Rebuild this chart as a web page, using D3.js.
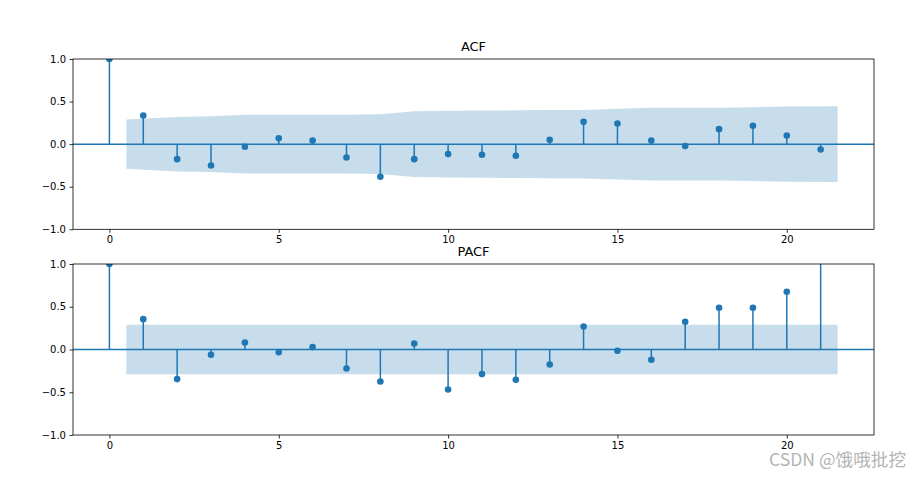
<!DOCTYPE html>
<html>
<head>
<meta charset="UTF-8">
<title>ACF / PACF</title>
<script src="https://cdnjs.cloudflare.com/ajax/libs/d3/7.8.5/d3.min.js"></script>
<style>
    body { margin: 0; background: #fff; }
    svg { display: block; font-family: "DejaVu Sans", sans-serif; }
    .tick text { font-size: 10px; fill: #000; }
    .tick line, .domain { stroke: #000; stroke-width: 0.8; }
</style>
</head>
<body>
<div id="chart"></div>
<script>
    // data
    const lags = [0, 1, 2, 3, 4, 5, 6, 7, 8, 9, 10, 11, 12, 13, 14, 15, 16, 17, 18, 19, 20, 21];
    const acfValues = [1.0, 0.337, -0.176, -0.25, -0.031, 0.07, 0.043, -0.156, -0.383, -0.176, -0.117,
        -0.125, -0.137, 0.051, 0.263, 0.243, 0.043, -0.023, 0.176, 0.216, 0.102, -0.062];
    // half width of the confidence band, lags 1..21
    const acfBand = [0.289, 0.320, 0.328, 0.344, 0.344, 0.345, 0.346, 0.351, 0.385, 0.391, 0.394,
        0.397, 0.401, 0.402, 0.416, 0.428, 0.428, 0.428, 0.434, 0.443, 0.445];
    const pacfValues = [1.0, 0.355, -0.346, -0.062, 0.082, -0.031, 0.028, -0.222, -0.374, 0.07, -0.468,
        -0.288, -0.354, -0.175, 0.269, -0.015, -0.12, 0.324, 0.488, 0.488, 0.675, 1.3];
    const pacfBand = [0.289, 0.289, 0.289, 0.289, 0.289, 0.289, 0.289, 0.289, 0.289, 0.289, 0.289,
        0.289, 0.289, 0.289, 0.289, 0.289, 0.289, 0.289, 0.289, 0.289, 0.289];
    const xTicks = [0, 5, 10, 15, 20];
    const yTicks = [-1.0, -0.5, 0.0, 0.5, 1.0];

    const width = 921, height = 480;
    const left = 73, right = 874;
    const blue = "#1f77b4";

    const svg = d3.select("#chart").append("svg")
        .attr("width", width)
        .attr("height", height);

    const x = d3.scaleLinear().domain([-1.075, 22.575]).range([left, right]);

    function drawPanel(name, values, band, top, bottom) {
        const y = d3.scaleLinear().domain([-1, 1]).range([bottom, top]);
        const g = svg.append("g");

        g.append("clipPath").attr("id", "clip-" + name)
            .append("rect")
            .attr("x", left).attr("y", top)
            .attr("width", right - left).attr("height", bottom - top);

        const plot = g.append("g").attr("clip-path", "url(#clip-" + name + ")");

        // band x: first lag moved left by 0.5, last moved right by 0.5
        const bandData = band.map((b, i) => {
            let lx = lags[i + 1];
            if (i === 0) lx -= 0.5;
            if (i === band.length - 1) lx += 0.5;
            return { x: lx, b: b };
        });
        plot.append("path")
            .datum(bandData)
            .attr("fill", blue)
            .attr("fill-opacity", 0.25)
            .attr("d", d3.area().x(d => x(d.x)).y0(d => y(-d.b)).y1(d => y(d.b)));

        plot.selectAll(".stem")
            .data(values)
            .enter()
            .append("line")
            .attr("class", "stem")
            .attr("x1", (d, i) => x(lags[i]))
            .attr("x2", (d, i) => x(lags[i]))
            .attr("y1", y(0))
            .attr("y2", d => y(d))
            .attr("stroke", blue)
            .attr("stroke-width", 1.5);

        plot.append("line")
            .attr("x1", left).attr("x2", right)
            .attr("y1", y(0)).attr("y2", y(0))
            .attr("stroke", blue)
            .attr("stroke-width", 1.5);

        plot.selectAll(".dot")
            .data(values)
            .enter()
            .append("circle")
            .attr("class", "dot")
            .attr("cx", (d, i) => x(lags[i]))
            .attr("cy", d => y(d))
            .attr("r", 3.3)
            .attr("fill", blue);

        // frame
        g.append("rect")
            .attr("x", left).attr("y", top)
            .attr("width", right - left).attr("height", bottom - top)
            .attr("fill", "none")
            .attr("stroke", "#000")
            .attr("stroke-width", 0.8);

        g.append("g")
            .attr("transform", "translate(0," + bottom + ")")
            .call(d3.axisBottom(x).tickValues(xTicks).tickFormat(d3.format("d")).tickSize(3.5).tickPadding(3.5))
            .call(a => a.select(".domain").remove())
            .call(a => a.selectAll("text").attr("font-family", "DejaVu Sans"));

        g.append("g")
            .attr("transform", "translate(" + left + ",0)")
            .call(d3.axisLeft(y).tickValues(yTicks).tickFormat(d3.format(".1f")).tickSize(3.5).tickPadding(3.5))
            .call(a => a.select(".domain").remove())
            .call(a => a.selectAll("text").attr("font-family", "DejaVu Sans"));

        g.append("text")
            .attr("x", (left + right) / 2)
            .attr("y", top - 8)
            .attr("text-anchor", "middle")
            .attr("font-size", "13px")
            .attr("fill", "#000")
            .text(name);
    }

    drawPanel("ACF", acfValues, acfBand, 59, 229.3);
    drawPanel("PACF", pacfValues, pacfBand, 264, 435);

    // watermark
    svg.append("text")
        .attr("x", 906)
        .attr("y", 466)
        .attr("text-anchor", "end")
        .attr("font-family", "Noto Sans CJK SC, DejaVu Sans")
        .attr("font-size", "17.6px")
        .attr("fill", "#b4b4b4")
        .text("CSDN @饿哦批挖");
</script>
</body>
</html>
